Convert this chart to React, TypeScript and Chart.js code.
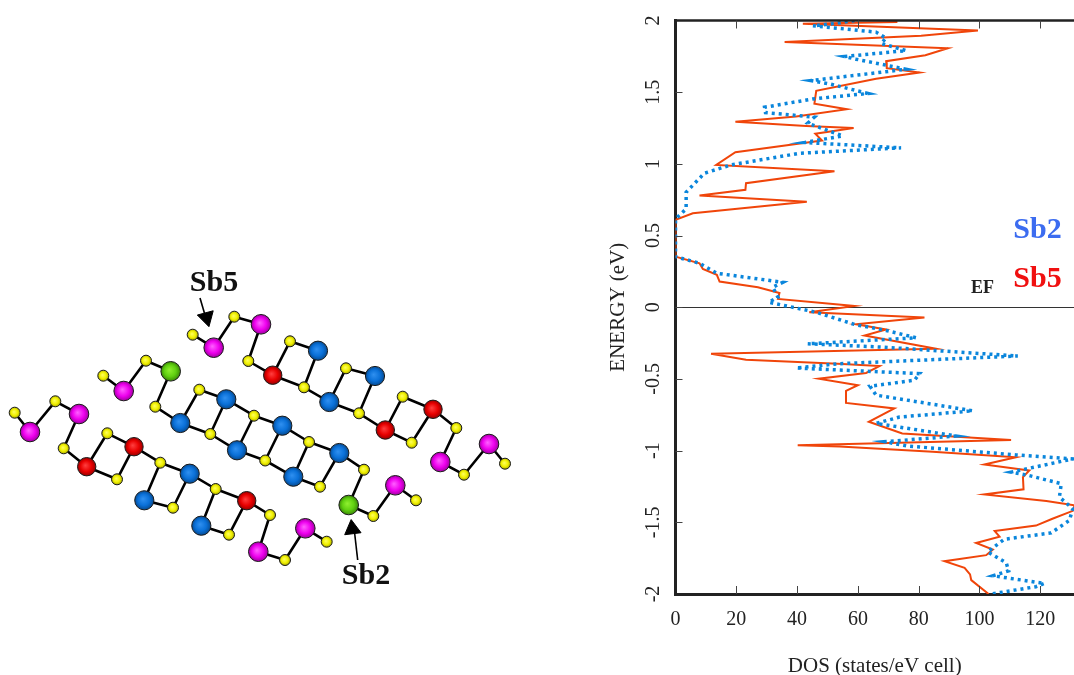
import React, { useEffect, useRef } from "react";
import { Chart, registerables } from "chart.js";

Chart.register(...registerables);

// ---- DOS panel data ----
const sb5Energy = [1.99, 1.977, 1.93, 1.893, 1.85, 1.807, 1.758, 1.716, 1.667, 1.637, 1.593, 1.51, 1.42, 1.381, 1.33, 1.293, 1.265, 1.251, 1.21, 1.163, 1.081, 0.993, 0.949, 0.865, 0.819, 0.779, 0.735, 0.656, 0.609, 0.353, 0.307, 0.267, 0.226, 0.179, 0.14, 0.1, 0.058, 0.009, -0.035, -0.072, -0.119, -0.155, -0.197, -0.289, -0.324, -0.366, -0.394, -0.41, -0.458, -0.498, -0.544, -0.583, -0.667, -0.706, -0.799, -0.88, -0.926, -0.963, -0.972, -1.007, -1.046, -1.097, -1.139, -1.185, -1.27, -1.306, -1.352, -1.382, -1.42, -1.475, -1.523, -1.56, -1.6, -1.644, -1.69, -1.729, -1.771, -1.817, -1.863, -1.903, -2];
const sb5Dos = [73, 41.9, 99.5, 80.8, 35.9, 89.6, 82.2, 69.3, 69.5, 80.3, 66, 46.3, 45.7, 56.4, 39.7, 19.7, 43, 58.6, 46, 48.2, 19.7, 13.4, 52.3, 23.2, 23, 7.9, 43.2, 5.7, 0, 0, 7.9, 9, 13.6, 14.5, 27.1, 34.2, 33.7, 58.9, 44, 81.9, 59.4, 69.3, 62.2, 85.7, 11.7, 23.2, 53.4, 67.1, 62.7, 47.1, 60, 56.1, 56.1, 72, 63.6, 74.6, 110.4, 40.2, 54, 84.6, 112, 101.6, 116.4, 114.3, 114.5, 101.6, 122, 131.3, 130.7, 124, 118.6, 105, 106.6, 98.9, 104.4, 102.2, 88.5, 95.1, 96.9, 97.3, 103];
const sb2Energy = [2, 1.98, 1.963, 1.919, 1.877, 1.84, 1.79, 1.749, 1.73, 1.66, 1.581, 1.558, 1.491, 1.453, 1.395, 1.358, 1.326, 1.284, 1.237, 1.195, 1.149, 1.112, 1.074, 0.993, 0.935, 0.802, 0.686, 0.616, 0.353, 0.307, 0.237, 0.174, 0.14, 0.07, 0.035, -0.035, -0.12, -0.162, -0.213, -0.255, -0.278, -0.34, -0.394, -0.424, -0.463, -0.509, -0.551, -0.613, -0.722, -0.766, -0.81, -0.898, -0.938, -0.968, -1.03, -1.058, -1.15, -1.174, -1.231, -1.324, -1.405, -1.486, -1.574, -1.618, -1.706, -1.782, -1.838, -1.873, -1.926, -1.949, -2];
const sb2Dos = [58.9, 52.9, 45.2, 66, 69.3, 67.6, 75.9, 55.6, 59.4, 75.9, 44.6, 50.7, 63.3, 45.2, 29.3, 29.6, 45.7, 43.5, 49.6, 55, 42.4, 74.2, 40.8, 18.3, 9.5, 3.5, 3.5, 0, 0, 7.9, 13.6, 35.3, 32, 33.7, 30.7, 46.3, 58.9, 69.3, 79.2, 43.5, 68.2, 112.6, 53.4, 39.7, 80.3, 78.6, 64, 66, 97.8, 73.7, 66, 92.3, 68.8, 76.4, 112, 130.7, 110.4, 116.4, 126.9, 126.3, 130.7, 129.6, 123.6, 108.2, 102.7, 108.8, 109.6, 104.4, 121.4, 118.6, 103.8];
const dosTicks = [0, 20, 40, 60, 80, 100, 120];
const energyTicks = [-2, -1.5, -1, -0.5, 0, 0.5, 1, 1.5, 2];
const seriesLabels = ["Sb2", "Sb5"];

// ---- Crystal structure data: id, kind, x, y ----
const atoms: [string, string, number, number][] = [
  ["a1", "Y", 192.7, 334.7], ["a2", "M", 213.7, 347.7], ["a3", "Y", 234.3, 316.7], ["a4", "M", 261, 324.3],
  ["a5", "Y", 248.3, 361], ["a6", "R", 272.7, 375.2], ["a7", "Y", 290, 341.3], ["a8", "B", 318, 350.7],
  ["a9", "Y", 304, 387.3], ["a10", "B", 329.3, 402], ["a11", "Y", 346, 368.3], ["a12", "B", 375, 376],
  ["a13", "Y", 359, 413.3], ["a14", "R", 385.3, 430], ["a15", "Y", 402.7, 396.7], ["a16", "R", 433, 409.3],
  ["a17", "Y", 411.7, 442.7], ["a18", "Y", 456.3, 428], ["a19", "M", 440.3, 462], ["a20", "Y", 464, 474.7],
  ["a21", "M", 489, 444], ["a22", "Y", 505, 463.7],
  ["b1", "Y", 103.3, 375.7], ["b2", "M", 123.7, 391], ["b3", "Y", 146, 360.7], ["b4", "G", 170.7, 371.3],
  ["b5", "Y", 155.3, 406.7], ["b6", "B", 180.3, 423], ["b7", "Y", 199.3, 389.7], ["b8", "B", 226.3, 399.3],
  ["b9", "Y", 210.3, 434], ["b10", "B", 237, 450.3], ["b11", "Y", 254, 415.7], ["b12", "Y", 265.2, 460.5],
  ["b13", "B", 282.3, 425.7], ["b14", "B", 293.3, 476.7], ["b15", "Y", 309, 442], ["b16", "B", 339.3, 453],
  ["b17", "Y", 320, 486.7], ["b18", "Y", 364, 469.7], ["b19", "G", 348.7, 505], ["b20", "Y", 373.3, 516],
  ["b21", "M", 395.3, 485.3], ["b22", "Y", 416, 500.3],
  ["c1", "Y", 14.7, 412.7], ["c2", "M", 30, 432], ["c3", "Y", 55.3, 401.3], ["c4", "M", 79, 414],
  ["c5", "Y", 63.7, 448.3], ["c6", "R", 86.7, 466.7], ["c7", "Y", 107.3, 433.3], ["c8", "R", 134, 446.7],
  ["c9", "Y", 117, 479.3], ["c10", "Y", 160.3, 462.7], ["c11", "B", 189.7, 473.7], ["c12", "B", 144.3, 500.3],
  ["c13", "Y", 173, 507.7], ["c14", "Y", 215.7, 489], ["c15", "R", 246.7, 500.7], ["c16", "B", 201.3, 525.7],
  ["c17", "Y", 229, 534.7], ["c18", "Y", 270, 515], ["c19", "M", 258.3, 551.7], ["c20", "Y", 285, 560],
  ["c21", "M", 305.3, 528.3], ["c22", "Y", 326.7, 541.7],
];
const bonds = [
  "a1 a2", "a2 a3", "a3 a4", "a4 a5", "a5 a6", "a6 a7", "a7 a8", "a8 a9", "a9 a6", "a9 a10", "a10 a11", "a11 a12",
  "a12 a13", "a13 a10", "a13 a14", "a14 a15", "a15 a16", "a16 a17", "a17 a14", "a16 a18", "a18 a19", "a19 a20", "a20 a21", "a21 a22",
  "b1 b2", "b2 b3", "b3 b4", "b4 b5", "b5 b6", "b6 b7", "b7 b8", "b8 b9", "b9 b6", "b9 b10", "b8 b11", "b10 b11", "b11 b13",
  "b10 b12", "b12 b13", "b12 b14", "b13 b15", "b14 b15", "b15 b16", "b14 b17", "b17 b16", "b16 b18", "b18 b19", "b19 b20", "b20 b21", "b21 b22",
  "c1 c2", "c2 c3", "c3 c4", "c4 c5", "c5 c6", "c6 c7", "c7 c8", "c8 c9", "c9 c6", "c8 c10", "c10 c11", "c11 c13", "c13 c12", "c12 c10",
  "c11 c14", "c14 c15", "c14 c16", "c16 c17", "c17 c15", "c15 c18", "c18 c19", "c19 c20", "c20 c21", "c21 c22",
];
const atomKinds = ["Y", "M", "R", "B", "G"];
const arrowShaftX = [[200, 205], [357.7, 354.5]];
const arrowShaftY = [[298, 315], [560, 532]];
const arrowHeadX = [206.5, 352.3];
const arrowHeadY = [317.5, 529];
const arrowHeadAngle = [165, -7];
const structureLabels = ["Sb5", "Sb2"];
const structureLabelX = [214, 366];
const structureLabelY = [283, 576];

const kindStyle: Record<string, { r: number; light: string; base: string; dark: string }> = {
  Y: { r: 5.5, light: "#ffff60", base: "#f0f000", dark: "#a8a800" },
  M: { r: 9.8, light: "#ff60ff", base: "#ee00ee", dark: "#a000a0" },
  R: { r: 9.2, light: "#ff4040", base: "#e80000", dark: "#980000" },
  B: { r: 9.6, light: "#3090f0", base: "#0a70d8", dark: "#064a90" },
  G: { r: 9.8, light: "#90f030", base: "#60d010", dark: "#3a8808" },
};

const SERIF = "'Liberation Serif', serif";
const INK = "#222222";

function atomById(id: string) {
  return atoms.find((a) => a[0] === id)!;
}

function StructurePanel() {
  const ref = useRef<HTMLCanvasElement>(null);
  useEffect(() => {
    const bondPts: any[] = [];
    bonds.forEach((b) => {
      const [p, q] = b.split(" ").map(atomById);
      bondPts.push({ x: p[2], y: p[3] }, { x: q[2], y: q[3] }, { x: null, y: null });
    });
    const atomSets = atomKinds.map((k) => {
      const st = kindStyle[k];
      return {
        type: "scatter",
        data: atoms.filter((a) => a[1] === k).map((a) => ({ x: a[2], y: a[3] })),
        showLine: false,
        pointRadius: st.r,
        pointBorderColor: "#1a1a1a",
        pointBorderWidth: 1,
        order: 1,
        pointBackgroundColor: (c: any) => {
          const chart = c.chart;
          const raw = c.raw;
          if (!raw || !chart.scales.x) return st.base;
          const px = chart.scales.x.getPixelForValue(raw.x);
          const py = chart.scales.y.getPixelForValue(raw.y);
          if (!Number.isFinite(px) || !Number.isFinite(py)) return st.base;
          const g = chart.ctx.createRadialGradient(px - st.r * 0.15, py - st.r * 0.15, 0, px, py, st.r);
          g.addColorStop(0, st.light);
          g.addColorStop(0.6, st.base);
          g.addColorStop(1, st.dark);
          return g;
        },
      };
    });
    const shafts = arrowShaftX.map((xs, i) => ({
      type: "scatter",
      data: xs.map((x, j) => ({ x, y: arrowShaftY[i][j] })),
      showLine: true,
      borderColor: "#000",
      borderWidth: 1.6,
      pointRadius: 0,
      order: 3,
    }));
    const heads = arrowHeadX.map((x, i) => ({
      type: "scatter",
      data: [{ x, y: arrowHeadY[i] }],
      showLine: false,
      pointStyle: "triangle",
      pointRadius: 9.5,
      pointRotation: arrowHeadAngle[i],
      pointBackgroundColor: "#000",
      pointBorderColor: "#000",
      order: 2,
    }));
    const chart = new Chart(ref.current!, {
      type: "scatter",
      data: {
        datasets: [
          {
            type: "scatter",
            data: bondPts,
            showLine: true,
            spanGaps: false,
            borderColor: "#000",
            borderWidth: 2.6,
            pointRadius: 0,
            order: 5,
          } as any,
          ...(shafts as any),
          ...(heads as any),
          ...(atomSets as any),
        ],
      },
      options: {
        animation: false,
        responsive: false,
        events: [],
        layout: { padding: 0, autoPadding: false },
        plugins: { legend: { display: false }, tooltip: { enabled: false } },
        scales: {
          x: { type: "linear", display: false, min: 0, max: 600 },
          y: { type: "linear", display: false, min: 0, max: 675, reverse: true },
        },
      },
      plugins: [
        {
          id: "structureLabels",
          afterDraw(c: any) {
            const ctx = c.ctx;
            ctx.save();
            ctx.font = `bold 30px ${SERIF}`;
            ctx.fillStyle = "#111";
            ctx.textAlign = "center";
            ctx.textBaseline = "middle";
            structureLabels.forEach((t, i) => {
              ctx.fillText(t, c.scales.x.getPixelForValue(structureLabelX[i]), c.scales.y.getPixelForValue(structureLabelY[i]));
            });
            ctx.restore();
          },
        },
      ],
    } as any);
    return () => chart.destroy();
  }, []);
  return <canvas ref={ref} width={600} height={675} style={{ position: "absolute", left: 0, top: 0, width: 600, height: 675 }} />;
}

function DosPanel() {
  const ref = useRef<HTMLCanvasElement>(null);
  useEffect(() => {
    const chart = new Chart(ref.current!, {
      type: "scatter",
      data: {
        datasets: [
          {
            label: seriesLabels[0],
            data: sb2Energy.map((e, i) => ({ x: sb2Dos[i], y: e })),
            showLine: true,
            borderColor: "#0a86dc",
            borderWidth: 3.5,
            borderDash: [3, 4],
            pointRadius: 0,
            tension: 0,
            order: 1,
          },
          {
            label: seriesLabels[1],
            data: sb5Energy.map((e, i) => ({ x: sb5Dos[i], y: e })),
            showLine: true,
            borderColor: "#f0450a",
            borderWidth: 2,
            pointRadius: 0,
            tension: 0,
            order: 2,
          },
        ],
      },
      options: {
        animation: false,
        responsive: false,
        events: [],
        layout: { padding: { top: 20.5, right: 0, left: 0, bottom: 0 }, autoPadding: false },
        plugins: { legend: { display: false }, tooltip: { enabled: false } },
        scales: {
          x: {
            type: "linear",
            min: 0,
            max: 131.1,
            afterBuildTicks: (s: any) => {
              s.ticks = dosTicks.map((value) => ({ value }));
            },
            afterFit: (s: any) => {
              s.height = 81;
            },
            border: { display: true, color: INK, width: 3 },
            grid: { display: false, drawTicks: false },
            ticks: {
              autoSkip: false,
              maxRotation: 0,
              minRotation: 0,
              padding: 14,
              color: INK,
              font: { family: SERIF, size: 20 },
              callback: (v: any) => String(v),
            },
            title: {
              display: true,
              text: "DOS (states/eV cell)",
              color: INK,
              font: { family: SERIF, size: 21, weight: "normal", lineHeight: 1 },
              padding: { top: 0, bottom: -2 },
            },
          },
          y: {
            type: "linear",
            min: -2,
            max: 2,
            afterBuildTicks: (s: any) => {
              s.ticks = energyTicks.map((value) => ({ value }));
            },
            afterFit: (s: any) => {
              s.width = 75.5;
            },
            border: { display: true, color: INK, width: 3 },
            grid: {
              drawTicks: false,
              color: (c: any) => (c.tick && c.tick.value === 0 ? "#333333" : "transparent"),
              lineWidth: 1,
            },
            ticks: {
              autoSkip: false,
              minRotation: 90,
              maxRotation: 90,
              crossAlign: "center",
              padding: 6,
              color: INK,
              font: { family: SERIF, size: 20 },
              callback: (v: any) => String(v),
            },
            title: {
              display: true,
              text: "ENERGY (eV)",
              color: INK,
              font: { family: SERIF, size: 21, weight: "normal", lineHeight: 1 },
              padding: { top: 8, bottom: 0 },
            },
          },
        },
      },
      plugins: [
        {
          id: "frameAndNotes",
          afterDraw(c: any) {
            const { ctx, chartArea: a, scales } = c;
            ctx.save();
            ctx.strokeStyle = INK;
            ctx.lineWidth = 2.4;
            ctx.beginPath();
            ctx.moveTo(a.left, a.top);
            ctx.lineTo(a.right, a.top);
            ctx.stroke();
            ctx.lineWidth = 1;
            ctx.strokeStyle = "#444";
            ctx.beginPath();
            dosTicks.slice(1).forEach((v) => {
              const x = Math.round(scales.x.getPixelForValue(v)) + 0.5;
              ctx.moveTo(x, a.top);
              ctx.lineTo(x, a.top + 8);
              ctx.moveTo(x, a.bottom);
              ctx.lineTo(x, a.bottom - 8);
            });
            energyTicks.slice(1, -1).forEach((v) => {
              const y = Math.round(scales.y.getPixelForValue(v)) + 0.5;
              ctx.moveTo(a.left, y);
              ctx.lineTo(a.left + 7, y);
            });
            ctx.stroke();
            ctx.textBaseline = "middle";
            ctx.textAlign = "center";
            ctx.font = `bold 30px ${SERIF}`;
            ctx.fillStyle = "#3c6cf0";
            ctx.fillText(seriesLabels[0], 1037.5 - 600, scales.y.getPixelForValue(0.54));
            ctx.fillStyle = "#f01010";
            ctx.fillText(seriesLabels[1], 1037.5 - 600, scales.y.getPixelForValue(0.195));
            ctx.font = `bold 18px ${SERIF}`;
            ctx.fillStyle = INK;
            ctx.fillText("EF", 982.5 - 600, scales.y.getPixelForValue(0.135));
            ctx.restore();
          },
        },
      ],
    } as any);
    return () => chart.destroy();
  }, []);
  return <canvas ref={ref} width={474} height={675} style={{ position: "absolute", left: 600, top: 0, width: 474, height: 675 }} />;
}

export default function App() {
  return (
    <div style={{ position: "absolute", left: 0, top: 0, width: 1074, height: 675, overflow: "hidden", background: "#fff" }}>
      <StructurePanel />
      <DosPanel />
    </div>
  );
}
